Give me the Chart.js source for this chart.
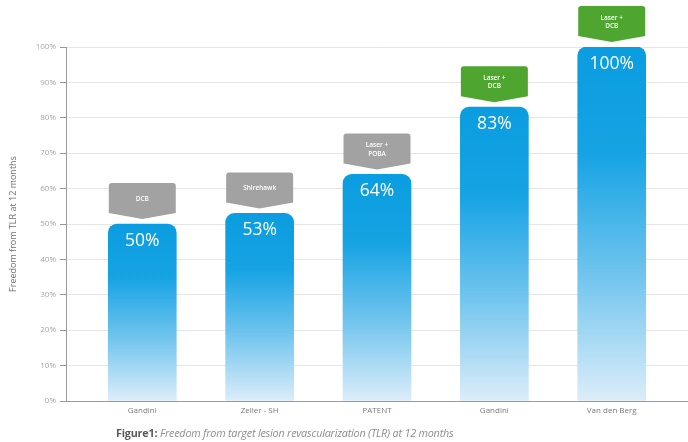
<!DOCTYPE html>
<html>
<head>
<meta charset="utf-8">
<script src="https://cdn.jsdelivr.net/npm/chart.js@4/dist/chart.umd.min.js"></script>
<style>
  html,body{margin:0;padding:0;background:#fff;width:688px;height:442px;overflow:hidden;}
  #wrap{position:relative;width:688px;height:442px;}
  canvas{position:absolute;left:0;top:0;}
  #cap{position:absolute;left:116px;top:425px;font-family:"Open Sans",sans-serif;font-size:10.8px;color:#8e8e8e;white-space:nowrap;letter-spacing:-0.2px;}
  #cap b{color:#5a5a5a;font-style:normal;}
  #cap i{font-style:italic;}
</style>
</head>
<body>
<div id="wrap">
<canvas id="c" width="688" height="442"></canvas>
<div id="cap"><b>Figure1:</b> <i>Freedom from target lesion revascularization (TLR) at 12 months</i></div>
</div>
<script>
const categories = ['Gandini', 'Zeller - SH', 'PATENT', 'Gandini', 'Van den Berg'];
const values = [50, 53, 64, 83, 100];
const tagLabels = [['DCB'], ['Shirehawk'], ['Laser +', 'POBA'], ['Laser +', 'DCB'], ['Laser +', 'DCB']];
const tagGroups = ['grey', 'grey', 'grey', 'green', 'green'];
const yTicks = [0, 10, 20, 30, 40, 50, 60, 70, 80, 90, 100];
const yTitle = 'Freedom from TLR at 12 months';

const TAG_COLORS = { grey: '#a2a2a2', green: '#4ea52f' };
const FONT = '"Open Sans", sans-serif';

const labelPlugin = {
  id: 'labelPlugin',
  afterDatasetsDraw(chart) {
    const ctx = chart.ctx;
    const meta = chart.getDatasetMeta(0);
    meta.data.forEach((bar, i) => {
      const x = bar.x, top = bar.y;
      ctx.save();
      ctx.fillStyle = '#ffffff';
      ctx.font = '17.5px ' + FONT;
      ctx.textAlign = 'center';
      ctx.textBaseline = 'middle';
      ctx.fillText(values[i] + '%', x, top + 17);
      ctx.restore();
      const w = 67, half = w / 2;
      const tTop = top - 41, side = top - 11, tip = top - 5, r = 3;
      ctx.save();
      ctx.fillStyle = TAG_COLORS[tagGroups[i]];
      ctx.beginPath();
      ctx.moveTo(x - half + r, tTop);
      ctx.lineTo(x + half - r, tTop);
      ctx.quadraticCurveTo(x + half, tTop, x + half, tTop + r);
      ctx.lineTo(x + half, side);
      ctx.lineTo(x, tip);
      ctx.lineTo(x - half, side);
      ctx.lineTo(x - half, tTop + r);
      ctx.quadraticCurveTo(x - half, tTop, x - half + r, tTop);
      ctx.closePath();
      ctx.fill();
      ctx.fillStyle = '#ffffff';
      ctx.font = '600 6.5px ' + FONT;
      ctx.textAlign = 'center';
      ctx.textBaseline = 'middle';
      const lines = tagLabels[i];
      const lh = 8.5;
      const cy = (tTop + side) / 2 + 1;
      lines.forEach((ln, k) => {
        ctx.fillText(ln, x, cy + (k - (lines.length - 1) / 2) * lh);
      });
      ctx.restore();
    });
  }
};

function barGradient(context) {
  const chart = context.chart;
  const { ctx, chartArea, scales } = chart;
  if (!chartArea) return '#0d9fe1';
  const v = values[context.dataIndex];
  const top = scales.y.getPixelForValue(v);
  const bottom = scales.y.getPixelForValue(0);
  const g = ctx.createLinearGradient(0, top, 0, bottom);
  g.addColorStop(0, '#0a9de0');
  g.addColorStop(0.3, '#16a3e4');
  g.addColorStop(0.65, '#72c5ee');
  g.addColorStop(1, '#dcedf9');
  return g;
}

new Chart(document.getElementById('c'), {
  type: 'bar',
  data: {
    datasets: [{
      data: values.map((v, i) => ({ x: i, y: v })),
      backgroundColor: barGradient,
      borderRadius: { topLeft: 9, topRight: 9, bottomLeft: 0, bottomRight: 0 },
      borderSkipped: 'bottom',
      barThickness: 68
    }]
  },
  options: {
    responsive: false,
    animation: false,
    devicePixelRatio: 1,
    layout: { padding: { top: 47, right: 0, left: 0, bottom: 0 } },
    plugins: { legend: { display: false }, tooltip: { enabled: false } },
    scales: {
      x: {
        type: 'linear',
        offset: false,
        bounds: 'ticks',
        min: -0.65,
        max: 4.65,
        afterBuildTicks(scale) { scale.ticks = categories.map((c, i) => ({ value: i })); },
        afterFit(scale) { scale.height = 41; },
        ticks: {
          callback: (v) => categories[v] ?? '',
          color: '#7a7a7a',
          font: { family: FONT, size: 8 },
          padding: 5,
          maxRotation: 0,
          autoSkip: false
        },
        grid: { display: false, drawTicks: false },
        border: { display: true, color: '#9a9a9a', width: 1 }
      },
      y: {
        min: 0,
        max: 100,
        afterBuildTicks(scale) { scale.ticks = yTicks.map(v => ({ value: v })); },
        afterFit(scale) { scale.width = 66; },
        ticks: {
          callback: (v) => v + '%',
          color: '#a5a5a5',
          font: { family: FONT, size: 8 },
          padding: 4
        },
        grid: { color: '#e6e6e6', lineWidth: 1, tickLength: 6, tickColor: '#9a9a9a' },
        border: { display: true, color: '#9a9a9a', width: 1 },
        title: {
          display: true,
          text: yTitle,
          color: '#707070',
          font: { family: FONT, size: 9 },
          padding: { top: 8, bottom: 0 }
        }
      }
    }
  },
  plugins: [labelPlugin]
});
</script>
</body>
</html>
